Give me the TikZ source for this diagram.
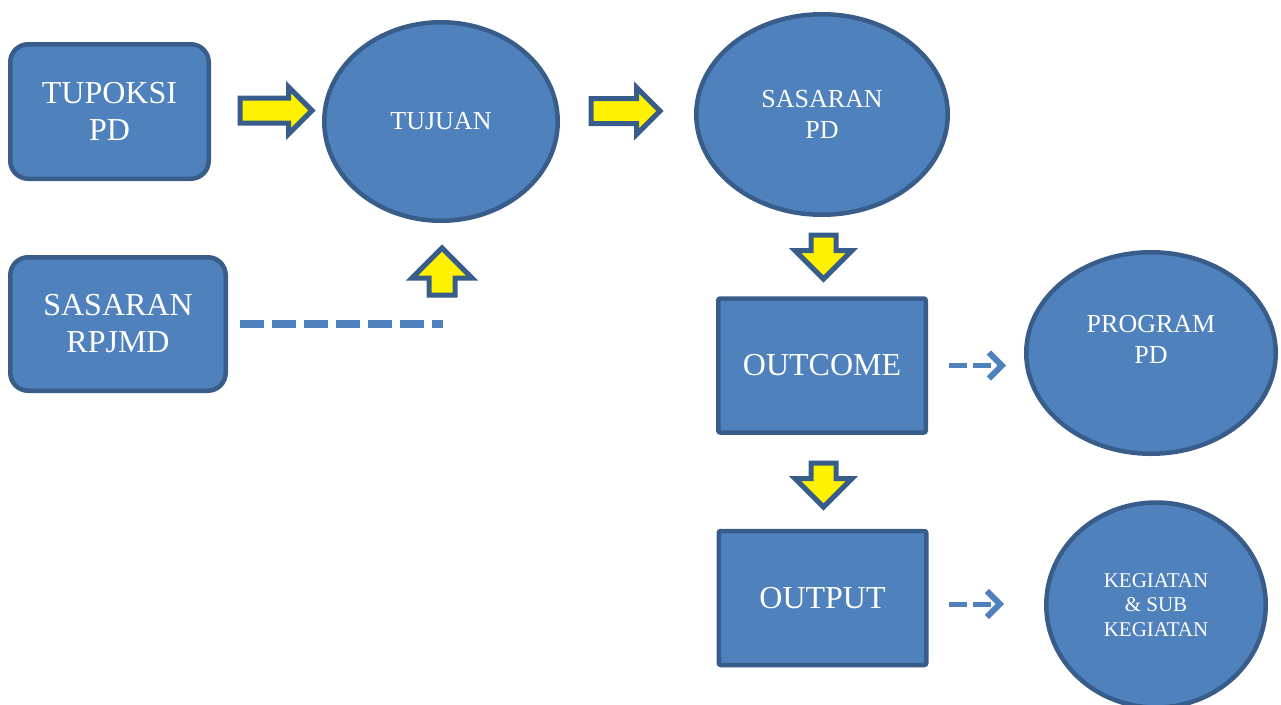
\documentclass[tikz,border=0pt]{standalone}
\usepackage{fontspec}
\setmainfont{Liberation Serif}
\usetikzlibrary{shapes.geometric,shapes.arrows,arrows.meta,calc}
\definecolor{boxblue}{HTML}{4F81BD}
\definecolor{edgeblue}{HTML}{385D8A}
\begin{document}
\begin{tikzpicture}[x=1pt,y=-1pt,line cap=butt]
	\tikzset{box/.style={draw=edgeblue,fill=boxblue,line width=4.5pt,text=white,align=center,inner sep=0pt,font=\fontsize{32}{37}\selectfont},
		roundbox/.style={box,rounded corners=18pt},
		squarebox/.style={box,rounded corners=2pt,minimum width=207.5pt,minimum height=134pt},
		oval/.style={box,ellipse,font=\fontsize{26}{31}\selectfont},
		ovaltext/.style={text=white,align=center,inner sep=0pt,font=\fontsize{26}{31}\selectfont},
		yarrow/.style={single arrow,draw=edgeblue,fill=yellow,line width=5pt,inner xsep=0pt,anchor=tail,line join=miter},
		dashline/.style={draw=boxblue,line width=8pt,dash pattern=on 24pt off 8pt},
		dasharrow/.style={draw=boxblue,line width=5pt,dash pattern=on 18pt off 6pt,-{Straight Barb[length=13pt,width=26pt,line width=6pt]}}}
	\path[use as bounding box,clip] (0,0) rectangle (1281,704);
	% boxes and ovals
	\node[roundbox,minimum width=198.5pt,minimum height=134.5pt] (tupoksi) at (109.5,111.5) {TUPOKSI\\PD};
	\node[roundbox,minimum width=215.5pt,minimum height=133.5pt] (rpjmd) at (118,324) {SASARAN\\RPJMD};
	\node[oval,minimum width=233.5pt,minimum height=198.5pt] (tujuan) at (441,121.5) {TUJUAN};
	\node[oval,minimum width=251.5pt,minimum height=200.5pt] (sasaran) at (822,114.5) {SASARAN\\PD};
	\node[squarebox] (outcome) at (822,365.5) {OUTCOME};
	\node[squarebox] (output) at (822.5,598) {OUTPUT};
	\node[oval,minimum width=249.5pt,minimum height=201.5pt] (program) at (1151,353) {};
	\node[ovaltext] (programtext) at ([yshift=13.5pt]program.center) {PROGRAM\\PD};
	\node[oval,minimum width=219.5pt,minimum height=205pt,font=\fontsize{21}{24.5}\selectfont] (kegiatan) at (1156,605) {KEGIATAN\\\&~SUB\\KEGIATAN};
	% yellow arrows
	\node[yarrow,minimum height=72pt,inner ysep=10pt,single arrow head extend=11pt] (arrtupoksi) at (237.5,110.5) {};
	\node[yarrow,minimum height=69pt,inner ysep=10pt,single arrow head extend=11pt] (arrtujuan) at (588.5,111) {};
	\node[yarrow,rotate=90,minimum height=47pt,inner ysep=10.5pt,single arrow head extend=17pt] (arrrpjmd) at (442,297.5) {};
	\node[yarrow,rotate=-90,minimum height=44pt,inner ysep=10pt,single arrow head extend=16pt] (arrsasaran) at (823.5,232.5) {};
	\node[yarrow,rotate=-90,minimum height=44pt,inner ysep=10pt,single arrow head extend=16pt] (arroutcome) at (823.5,460.5) {};
	% dashed links
	\coordinate (dashend) at (443,322);
	\draw[dashline] ([xshift=12pt]rpjmd.east) -- (dashend |- rpjmd.east);
	\draw[dasharrow] ($(outcome.east)+(21,0)$) -- ($(outcome.east -| program.west)+(-18,0)$);
	\draw[dasharrow] ($(output.east)+(20,6)$) -- ($(output.east -| kegiatan.west)+(-40,6)$);
\end{tikzpicture}
\end{document}
